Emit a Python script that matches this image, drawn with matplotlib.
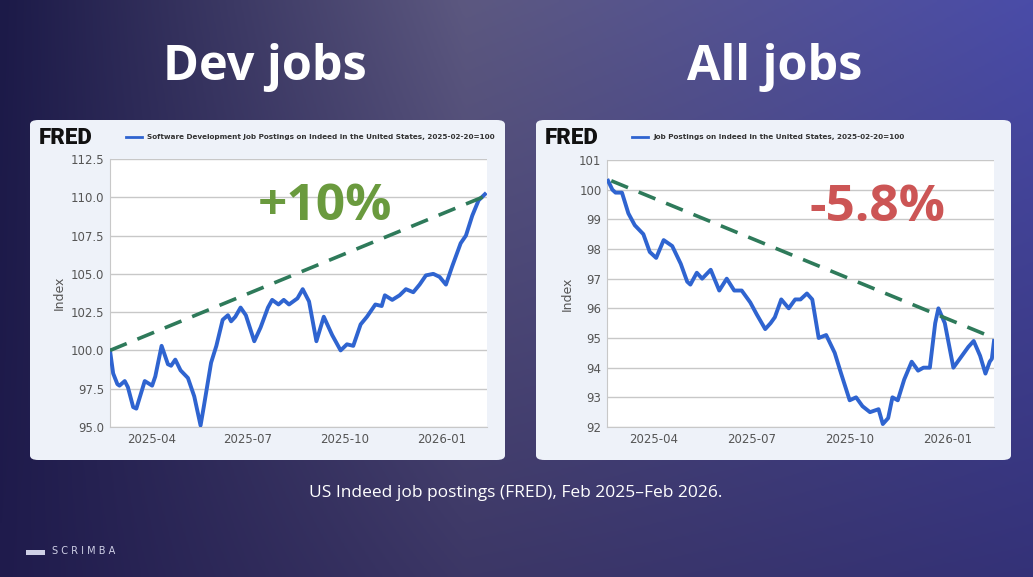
import matplotlib
matplotlib.use("Agg")
import matplotlib.pyplot as plt
import matplotlib.dates as mdates
from matplotlib.patches import FancyBboxPatch
import numpy as np
import pandas as pd

dev_dates = ["2025-02-20","2025-02-23","2025-02-27","2025-03-01","2025-03-06","2025-03-09","2025-03-14","2025-03-17",
 "2025-03-25","2025-04-01","2025-04-04","2025-04-10","2025-04-16","2025-04-19","2025-04-23","2025-04-28","2025-05-05",
 "2025-05-11","2025-05-17","2025-05-20","2025-05-27","2025-06-01","2025-06-07","2025-06-12","2025-06-15","2025-06-19",
 "2025-06-24","2025-06-29","2025-07-07","2025-07-13","2025-07-20","2025-07-24","2025-07-30","2025-08-04","2025-08-09",
 "2025-08-13","2025-08-17","2025-08-22","2025-08-28","2025-09-04","2025-09-11","2025-09-19","2025-09-27","2025-10-03",
 "2025-10-09","2025-10-16","2025-10-22","2025-10-30","2025-11-05","2025-11-08","2025-11-15","2025-11-22","2025-11-28",
 "2025-12-05","2025-12-11","2025-12-17","2025-12-24","2025-12-30","2026-01-05","2026-01-11","2026-01-19","2026-01-24",
 "2026-01-30","2026-02-05","2026-02-11"]
dev_vals = [100.0,98.5,97.8,97.7,98.0,97.6,96.3,96.2,98.0,97.7,98.3,100.3,99.1,99.0,99.4,98.7,98.2,
 97.0,95.1,96.3,99.2,100.3,102.0,102.3,101.9,102.2,102.8,102.3,100.6,101.5,102.8,103.3,103.0,103.3,103.0,
 103.2,103.4,104.0,103.2,100.6,102.2,101.0,100.0,100.4,100.3,101.7,102.2,103.0,102.9,103.6,103.3,103.6,104.0,
 103.8,104.3,104.9,105.0,104.8,104.3,105.5,107.0,107.5,108.8,109.8,110.2]

all_dates = ["2025-02-17","2025-02-21","2025-02-24","2025-03-02","2025-03-08","2025-03-14","2025-03-22","2025-03-28",
 "2025-04-03","2025-04-10","2025-04-18","2025-04-26","2025-05-02","2025-05-05","2025-05-11","2025-05-16","2025-05-24",
 "2025-06-01","2025-06-08","2025-06-15","2025-06-22","2025-06-30","2025-07-06","2025-07-14","2025-07-19","2025-07-23",
 "2025-07-29","2025-08-05","2025-08-11","2025-08-16","2025-08-22","2025-08-27","2025-09-02","2025-09-09","2025-09-17",
 "2025-09-23","2025-10-01","2025-10-07","2025-10-13","2025-10-20","2025-10-28","2025-11-01","2025-11-06","2025-11-10",
 "2025-11-15","2025-11-21","2025-11-28","2025-12-04","2025-12-09","2025-12-15","2025-12-20","2025-12-23","2025-12-29",
 "2026-01-06","2026-01-12","2026-01-20","2026-01-25","2026-01-31","2026-02-05","2026-02-09","2026-02-11","2026-02-13"]
all_vals = [100.3,100.0,99.9,99.9,99.2,98.8,98.5,97.9,97.7,98.3,98.1,97.5,96.9,96.8,97.2,97.0,97.3,
 96.6,97.0,96.6,96.6,96.2,95.8,95.3,95.5,95.7,96.3,96.0,96.3,96.3,96.5,96.3,95.0,95.1,94.5,
 93.8,92.9,93.0,92.7,92.5,92.6,92.1,92.3,93.0,92.9,93.6,94.2,93.9,94.0,94.0,95.5,96.0,95.5,
 94.0,94.3,94.7,94.9,94.4,93.8,94.2,94.3,94.9]

dev_trend_dates = ["2025-02-20","2026-02-12"]; dev_trend_vals = [100.0,110.1]
all_trend_dates = ["2025-02-20","2026-02-13"]; all_trend_vals = [100.3,95.0]

W, H = 1033, 577
fig = plt.figure(figsize=(W/100, H/100), dpi=100)

# background gradient
bg = fig.add_axes([0,0,1,1]); bg.axis("off")
xx, yy = np.meshgrid(np.linspace(0,1,300), np.linspace(0,1,200))
c_left = np.array([0x1c,0x1a,0x48])/255
c_mid = np.array([0x5c,0x58,0x80])/255
c_right = np.array([0x4a,0x4c,0xa8])/255
c_bot = np.array([0x22,0x1c,0x50])/255
t = xx[...,None]
img = np.where(t<0.45, c_left+(c_mid-c_left)*(t/0.45), c_mid+(c_right-c_mid)*((t-0.45)/0.55))
img = img*(1-0.55*yy[...,None]) + c_bot*0.55*yy[...,None]
bg.imshow(img, extent=[0,1,0,1], aspect="auto", transform=bg.transAxes)
bg.set_xlim(0,1); bg.set_ylim(0,1)

def fx(px): return px/W
def fy(py): return 1-py/H

for x0 in (30, 536):
    bg.add_patch(FancyBboxPatch((fx(x0), fy(460)), fx(475), 340/H, boxstyle="round,pad=0,rounding_size=0.008",
                 facecolor="#eef2f9", edgecolor="none", transform=bg.transAxes))

fig.text(fx(265), fy(68), "Dev jobs", color="white", fontsize=35, fontweight="bold", ha="center", va="center", family="Open Sans")
fig.text(fx(775), fy(68), "All jobs", color="white", fontsize=35, fontweight="bold", ha="center", va="center", family="Open Sans")
fig.text(fx(516), fy(493), "US Indeed job postings (FRED), Feb 2025–Feb 2026.", color="white", fontsize=12.5, ha="center", va="center", family="Open Sans")
fig.text(fx(52), fy(551), "S C R I M B A", color="#cfd0e6", fontsize=7, ha="left", va="center")
bg.add_patch(plt.Rectangle((fx(26), fy(555)), 0.018, 0.008, facecolor="#cfd0e6", transform=bg.transAxes))

def panel(ax_rect, dates, vals, tdates, tvals, ylim, yticks, yfmt, title, x0, pct, pct_color, pct_xy, xstart):
    ax = fig.add_axes(ax_rect)
    d = pd.to_datetime(dates)
    ax.plot(d, vals, color="#2f64d0", lw=2.8, zorder=3)
    ax.plot(pd.to_datetime(tdates), tvals, color="#2e7a5a", lw=2.6, ls=(0,(5,3.2)), zorder=4)
    ax.set_ylim(*ylim)
    ax.set_xlim(pd.Timestamp(xstart), pd.Timestamp("2026-02-13"))
    ax.set_yticks(yticks)
    ax.set_yticklabels([yfmt.format(v) for v in yticks])
    ax.xaxis.set_major_locator(mdates.MonthLocator(bymonth=[1,4,7,10]))
    ax.xaxis.set_major_formatter(mdates.DateFormatter("%Y-%m"))
    ax.grid(axis="y", color="#c8c8c8", lw=1)
    ax.tick_params(length=0, labelsize=8.5, colors="#555555", pad=4)
    for s in ax.spines.values(): s.set_visible(False)
    ax.spines["left"].set_visible(True); ax.spines["left"].set_color("#c8c8c8")
    ax.spines["bottom"].set_visible(True); ax.spines["bottom"].set_color("#c8c8c8")
    ax.set_ylabel("Index", color="#555555", fontsize=9)
    ax.text(*pct_xy, pct, transform=ax.transAxes, color=pct_color, fontsize=37, fontweight="bold", ha="center", va="center", family="Open Sans")
    fig.text(fx(x0+9), fy(138), "FRED", fontsize=16, fontweight="heavy", color="#111111", va="center", family="Roboto")
    bg.plot([fx(x0+96), fx(x0+112)], [fy(137), fy(137)], color="#2f64d0", lw=2, transform=bg.transAxes)
    fig.text(fx(x0+117), fy(137), title, fontsize=5.2, color="#333333", va="center", fontweight="bold")
    return ax

panel([fx(110), fy(427), fx(377), 268/H], dev_dates, dev_vals, dev_trend_dates, dev_trend_vals,
      (95, 112.5), [95,97.5,100,102.5,105,107.5,110,112.5], "{:.1f}",
      "Software Development Job Postings on Indeed in the United States, 2025-02-20=100", 30, "+10%", "#6a9a3e", (0.57, 0.82),
      "2025-02-20")
panel([fx(607), fy(427), fx(387), 267/H], all_dates, all_vals, all_trend_dates, all_trend_vals,
      (92, 101), list(range(92,102)), "{:d}",
      "Job Postings on Indeed in the United States, 2025-02-20=100", 536, "-5.8%", "#cc5555", (0.70, 0.82),
      "2025-02-16")

fig.savefig("out.png", dpi=100)
